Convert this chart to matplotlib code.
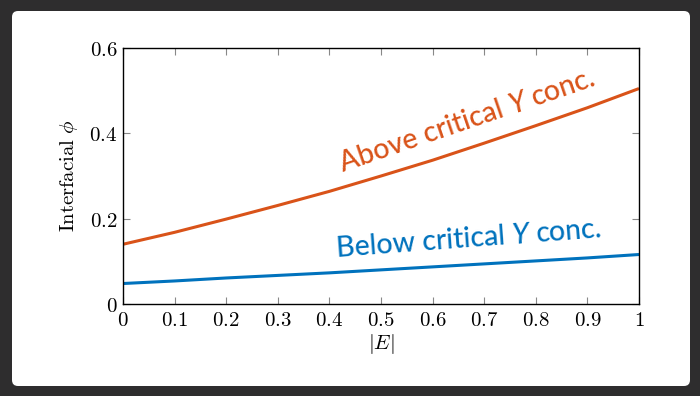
import matplotlib
matplotlib.use("Agg")
import matplotlib.pyplot as plt
from matplotlib.patches import FancyBboxPatch
from matplotlib.transforms import offset_copy
from matplotlib.ticker import FuncFormatter
import numpy as np

plt.rcParams['mathtext.fontset'] = 'cm'

# data
E = [0, 0.1, 0.2, 0.3, 0.4, 0.5, 0.6, 0.7, 0.8, 0.9, 1.0]
phi_above = [0.140, 0.168, 0.199, 0.231, 0.264, 0.300, 0.337, 0.377, 0.418, 0.460, 0.505]
phi_below = [0.048, 0.054, 0.061, 0.067, 0.073, 0.080, 0.087, 0.094, 0.101, 0.108, 0.116]
x_ticks = [0, 0.1, 0.2, 0.3, 0.4, 0.5, 0.6, 0.7, 0.8, 0.9, 1.0]
y_ticks = [0, 0.2, 0.4, 0.6]

orange = '#D95319'
blue = '#0072BD'

fig = plt.figure(figsize=(7, 3.96), dpi=100)
fig.patch.set_facecolor('#2e2d2e')
card = FancyBboxPatch((12, 10), 678, 375, boxstyle="round,pad=0,rounding_size=6",
                      transform=None, facecolor='white', edgecolor='none', zorder=-10)
fig.patches.append(card)

ax = fig.add_axes([123 / 700, 92 / 396, 516 / 700, 256 / 396])
ax.patch.set_alpha(0)
ax.plot(E, phi_above, color=orange, lw=2.2, solid_capstyle='butt')
ax.plot(E, phi_below, color=blue, lw=2.2, solid_capstyle='butt')
ax.set_xlim(0, 1)
ax.set_ylim(0, 0.6)
ax.set_xticks(x_ticks)
ax.set_yticks(y_ticks)
fmt = FuncFormatter(lambda v, p: r'$%g$' % v)
ax.xaxis.set_major_formatter(fmt)
ax.yaxis.set_major_formatter(fmt)
ax.tick_params(direction='in', length=5, width=0.8, color='#888888',
               top=True, right=True, labelsize=15, pad=4)
for s in ax.spines.values():
    s.set_linewidth(1.0)
ax.set_xlabel(r'$|E|$', fontsize=15, labelpad=2)
ax.set_ylabel(r'$\mathrm{Interfacial}\ \phi$', fontsize=15, labelpad=6.5)

renderer = fig.canvas.get_renderer()


def text_width(s, **kw):
    t = fig.text(0, 0, s, **kw)
    w = t.get_window_extent(renderer).width
    t.remove()
    return w


def rotated_label(x, y, parts, angle, color, size):
    # parts: list of (string, style); drawn one after another along the baseline
    base = dict(fontsize=size, family='Lato', weight=500)
    space = text_width('x x', **base) - text_width('xx', **base)
    widths = [text_width(s, style=st, **base) for s, st in parts]
    total = sum(widths) + space * (len(parts) - 1)
    a = np.deg2rad(angle)
    d = -total / 2
    for (s, st), w in zip(parts, widths):
        tr = offset_copy(ax.transData, fig=fig, x=d * np.cos(a), y=d * np.sin(a), units='dots')
        ax.text(x, y, s, transform=tr, rotation=angle, rotation_mode='anchor',
                ha='left', va='baseline', color=color, style=st, **base)
        d += w + space


rotated_label(0.673, 0.412, [('Above critical', 'normal'), ('Y', 'italic'), ('conc.', 'normal')],
              18.9, orange, 20.5)
rotated_label(0.672, 0.134, [('Below critical', 'normal'), ('Y', 'italic'), ('conc.', 'normal')],
              4.3, blue, 20.5)

fig.savefig('out.png', dpi=100, facecolor=fig.get_facecolor())
